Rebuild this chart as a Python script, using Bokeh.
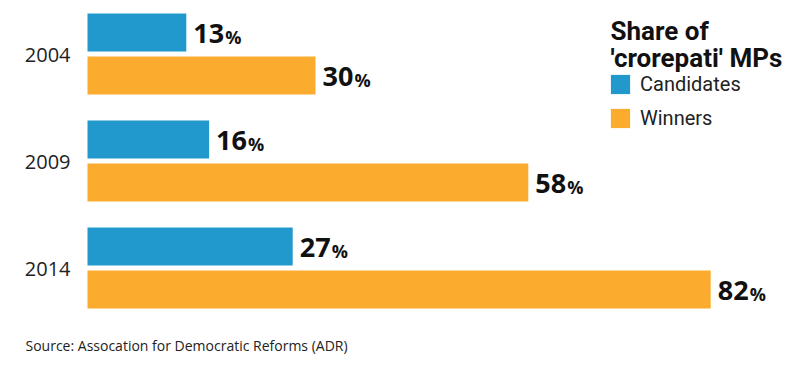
from bokeh.plotting import figure
from bokeh.models import ColumnDataSource, Range1d, Label, Legend, LegendItem
from bokeh.core.properties import value
from bokeh.embed import file_html
from bokeh.resources import INLINE

years = ["2004", "2009", "2014"]
candidates = [13, 16, 27]
winners = [30, 58, 82]
series_names = ["Candidates", "Winners"]
title_lines = ["Share of", "'crorepati' MPs"]
source_note = "Source: Assocation for Democratic Reforms (ADR)"

BLUE = "#2199cc"
ORANGE = "#fbab2e"

W, H = 800, 369
PX_PER_UNIT = 7.6
LEFT = 87
GROUP_PX = 107.0
FIRST_CENTER = 53.5

idx = list(range(len(years)))
off = 21.5 / GROUP_PX
bar_h = 38.0 / GROUP_PX

src = ColumnDataSource(dict(
    i=idx,
    year=years,
    yc=[i - off for i in idx],
    yw=[i + off for i in idx],
    cand=candidates,
    win=winners,
    cand_txt=[str(v) for v in candidates],
    win_txt=[str(v) for v in winners],
    pct=["%"] * len(idx),
))

p = figure(width=W, height=H, output_backend="svg", toolbar_location=None,
           x_range=Range1d(-LEFT / PX_PER_UNIT, (W - LEFT) / PX_PER_UNIT),
           y_range=Range1d((H - FIRST_CENTER) / GROUP_PX, -FIRST_CENTER / GROUP_PX),
           min_border_left=0, min_border_right=0, min_border_top=0, min_border_bottom=0)
p.axis.visible = False
p.grid.visible = False
p.outline_line_color = None
p.background_fill_color = "white"
p.border_fill_color = "white"

rc = p.hbar(y="yc", right="cand", left=0, height=bar_h, source=src, fill_color=BLUE, line_color=None)
rw = p.hbar(y="yw", right="win", left=0, height=bar_h, source=src, fill_color=ORANGE, line_color=None)

num_font = value("Open Sans")
NUM_SIZE = "27px"
PCT_SIZE = "18px"
GAP = 7
NUM_W = 32

for ycol, xcol, tcol in [("yc", "cand", "cand_txt"), ("yw", "win", "win_txt")]:
    p.text(x=xcol, y=ycol, text=tcol, source=src, x_offset=GAP, y_offset=1,
           text_font=num_font, text_font_style="bold", text_font_size=NUM_SIZE,
           text_color="#111111", text_baseline="middle", text_align="left")
    p.text(x=xcol, y=ycol, text="pct", source=src, x_offset=GAP + NUM_W, y_offset=4,
           text_font=num_font, text_font_style="bold", text_font_size=PCT_SIZE,
           text_color="#111111", text_baseline="middle", text_align="left")

p.text(x=0, y="i", text="year", source=src, x_offset=-17, y_offset=1,
       text_font=value("Open Sans"), text_font_size="20px", text_color="#222222",
       text_baseline="middle", text_align="right")

# legend title
p.add_layout(Label(x=610, y=339, x_units="screen", y_units="screen", text=title_lines[0],
                   text_font="Roboto", text_font_style="bold", text_font_size="26px",
                   text_color="#111111", text_baseline="alphabetic"))
p.add_layout(Label(x=610, y=312, x_units="screen", y_units="screen", text=title_lines[1],
                   text_font="Roboto", text_font_style="bold", text_font_size="26px",
                   text_color="#111111", text_baseline="alphabetic"))

legend = Legend(items=[LegendItem(label=series_names[0], renderers=[rc]),
                       LegendItem(label=series_names[1], renderers=[rw])],
                location=(608, 239), orientation="vertical",
                glyph_width=24, glyph_height=24, label_height=24, spacing=10,
                label_standoff=8, padding=0, margin=0,
                border_line_color=None, background_fill_alpha=0,
                label_text_font="Roboto", label_text_font_size="20px",
                label_text_color="#222222", label_text_baseline="middle")
p.add_layout(legend)

p.add_layout(Label(x=25, y=24, x_units="screen", y_units="screen", text=source_note,
                   text_font="Open Sans", text_font_size="14px",
                   text_color="#222222", text_baseline="alphabetic"))

open("out.html", "w").write(file_html(p, INLINE))
